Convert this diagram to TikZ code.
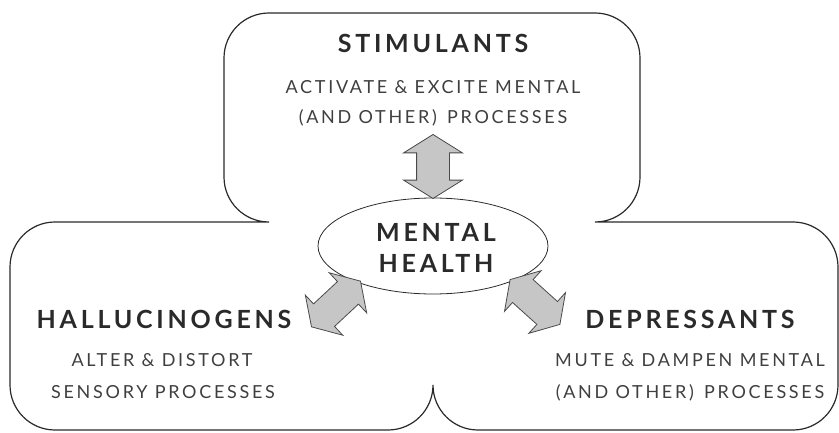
\documentclass[tikz,border=0pt]{standalone}
\usepackage{fontspec}
\setmainfont{Lato}
\newfontfamily\titlefont[LetterSpace=15]{Lato Bold}
\newfontfamily\descfont[LetterSpace=15]{Lato}
\usetikzlibrary{shapes.geometric,shapes.arrows}
\definecolor{ink}{HTML}{2A2A2A}
\definecolor{arrowfill}{HTML}{C6C6C6}
\begin{document}
\begin{tikzpicture}[x=1pt,y=1pt,
  outline/.style={draw=ink,line width=1.2pt},
  title/.style={font=\titlefont\fontsize{25}{25}\selectfont,text=ink,inner sep=0pt,text height=18pt,text depth=0pt},
  desc/.style={font=\descfont\fontsize{18}{18}\selectfont,text=ink!90,inner sep=0pt,text height=13pt,text depth=0pt},
  dblarrow/.style={double arrow,draw=ink!85,fill=arrowfill,line width=0.8pt,inner xsep=0pt,inner ysep=16pt,
    double arrow head extend=13pt,double arrow tip angle=116,minimum height=64pt}]
\path[use as bounding box] (0,0) rectangle (839,432);
% outline of the three regions
\draw[outline] (224,374) arc[start angle=180,end angle=90,radius=45]
  -- (595,419) arc[start angle=90,end angle=0,radius=45]
  -- (640,255) arc[start angle=0,end angle=-90,radius=45]
  -- (793,210) arc[start angle=90,end angle=0,radius=45]
  -- (838,47) arc[start angle=0,end angle=-90,radius=45]
  -- (478,2) arc[start angle=270,end angle=180,radius=45]
  arc[start angle=0,end angle=-90,radius=45]
  -- (55,2) arc[start angle=270,end angle=180,radius=45]
  -- (10,165) arc[start angle=180,end angle=90,radius=45]
  -- (269,210) arc[start angle=270,end angle=180,radius=45]
  -- cycle;
% central ellipse
\node[ellipse,draw=ink,line width=0.8pt,fill=white,minimum width=230pt,minimum height=96pt,inner sep=0pt] (mh) at (433,186) {};
\node[title] (mental) at (436,200) {MENTAL};
\node[title] (health) at (436,169) {HEALTH};
% texts
\node[title] (stim) at (433,388) {STIMULANTS};
\node[desc] (stim1) at (433,345) {ACTIVATE \& EXCITE MENTAL};
\node[desc] (stim2) at (433,315) {(AND OTHER)\, PROCESSES};
\node[title] (hall) at (164,113) {HALLUCINOGENS};
\node[desc] (hall1) at (162,72) {ALTER \& DISTORT};
\node[desc] (hall2) at (163,40) {SENSORY PROCESSES};
\node[title] (dep) at (690,113) {DEPRESSANTS};
\node[desc] (dep1) at (690,72) {MUTE \& DAMPEN MENTAL};
\node[desc] (dep2) at (690,40) {(AND OTHER)\, PROCESSES};
% block double arrows
\node[dblarrow,rotate=90] (a1) at (433,265.5) {};
\node[dblarrow,rotate=43,inner ysep=15pt,double arrow head extend=12pt,minimum height=67pt] (a2) at (336,128) {};
\node[dblarrow,rotate=-42,inner ysep=15pt,double arrow head extend=12pt,minimum height=67pt] (a3) at (535,130) {};
\end{tikzpicture}
\end{document}
